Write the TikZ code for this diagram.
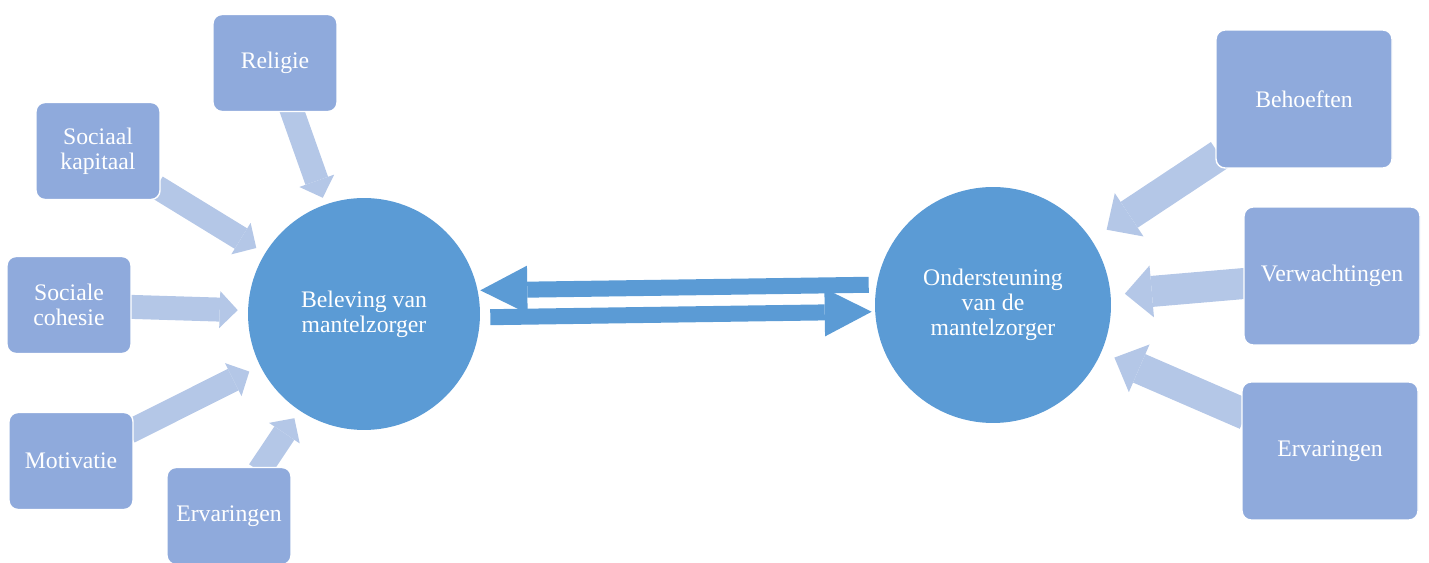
\documentclass[tikz,border=0pt]{standalone}
\usepackage{fontspec}
\setmainfont{Liberation Serif}
\usetikzlibrary{arrows.meta}
\definecolor{boxblue}{RGB}{143,170,220}
\definecolor{hubblue}{RGB}{91,155,213}
\definecolor{feedblue}{RGB}{180,199,231}
\pgfdeclarelayer{bg}
\pgfsetlayers{bg,main}

\begin{document}
\begin{tikzpicture}[x=0.02cm,y=-0.02cm,
  txt/.style={font=\fontsize{13.5}{14.1}\selectfont,text=white,align=center},
  factor/.style={txt,draw=white,line width=0.8pt,fill=boxblue,rounded corners=0.18cm,minimum width=2.48cm,minimum height=1.94cm,inner sep=0pt},
  need/.style={factor,minimum width=3.52cm,minimum height=2.76cm},
  hub/.style={txt,circle,fill=hubblue,inner sep=0pt},
  feed/.style={feedblue,line width=0.48cm,-{Triangle[length=0.36cm,width=0.74cm,line width'=0pt]},shorten <=-0.1cm,shorten >=0.2cm},
  feedbig/.style={feedblue,line width=0.62cm,-{Triangle[length=0.54cm,width=1.04cm,line width'=0pt]},shorten <=-0.1cm,shorten >=0.28cm},
  link/.style={hubblue,line width=0.32cm,-{Triangle[length=0.94cm,width=0.96cm,line width'=0pt]}}]
\useasboundingbox (0,0) rectangle (1429,563);
% Two hubs
\node[hub,minimum size=4.64cm] (bel) at (364,314) {Beleving van\\mantelzorger};
\node[hub,minimum size=4.72cm] (ond) at (993,305) {Ondersteuning\\van de\\mantelzorger};
% Left factors
\node[factor] (rel) at (275,63) {Religie};
\node[factor] (kap) at (98,151) {Sociaal\\kapitaal};
\node[factor] (coh) at (69,305) {Sociale\\cohesie};
\node[factor] (mot) at (71,461) {Motivatie};
\node[factor] (erl) at (229,516) {Ervaringen};
% Right factors
\node[need] (beh) at (1304,99) {Behoeften};
\node[need] (ver) at (1332,276) {Verwachtingen};
\node[need] (err) at (1330,451) {Ervaringen};
% Arrows behind the boxes
\begin{pgfonlayer}{bg}
\draw[feed,shorten >=0.14cm] (rel) -- (bel);
\draw[feed] (kap) -- (bel);
\draw[feed] (coh) -- (bel);
\draw[feed,shorten >=0.24cm] (mot) -- (bel);
\draw[feed,shorten >=0.18cm] (erl) -- (bel);
\draw[feedbig,shorten >=0.36cm] (beh) -- (ond);
\draw[feedbig] (ver) -- (ond);
\draw[feedbig] (err) -- (ond);
% Two-way link
\draw[link,transform canvas={yshift=0.44cm},shorten <=0.12cm] (ond) -- (bel);
\draw[link,transform canvas={yshift=-0.1cm},shorten <=0.2cm,shorten >=0.06cm] (bel) -- (ond);
\end{pgfonlayer}
\end{tikzpicture}
\end{document}
